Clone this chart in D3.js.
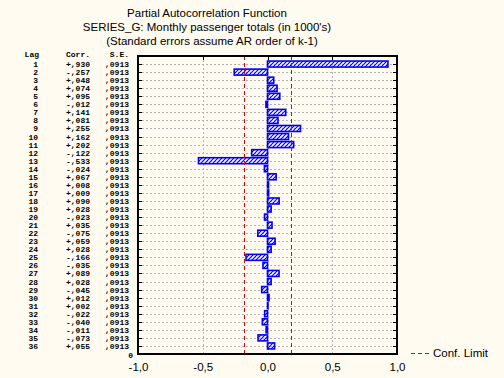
<!DOCTYPE html>
<html>
<head>
<meta charset="utf-8">
<script src="https://cdn.jsdelivr.net/npm/d3@7"></script>
<style>
  body { margin: 0; background: #fffbf0; }
  svg { display: block; }
</style>
</head>
<body>
<div id="chart"></div>
<script>
var lags = d3.range(1, 37),
    corr = [0.930, -0.257, 0.048, 0.074, 0.095, -0.012, 0.141, 0.081, 0.255, 0.162,
            0.202, -0.122, -0.533, -0.024, 0.067, 0.008, 0.009, 0.090, 0.028, -0.023,
            0.035, -0.075, 0.059, 0.028, -0.166, -0.035, 0.089, 0.028, -0.045, 0.012,
            0.002, -0.022, -0.040, -0.011, -0.073, 0.055],
    stdErr = 0.0913,
    xTicks = [-1, -0.5, 0, 0.5, 1],
    titles = ["Partial Autocorrelation Function",
              "SERIES_G: Monthly passenger totals (in 1000's)",
              "(Standard errors assume AR order of k-1)"];

var W = 504, H = 378,
    plot = {left: 138, right: 397, top: 56, bottom: 354};

var svg = d3.select("#chart").append("svg")
    .attr("width", W)
    .attr("height", H)
    .style("background", "#fffbf0");

var defs = svg.append("defs");
var pat = defs.append("pattern")
    .attr("id", "hatch")
    .attr("patternUnits", "userSpaceOnUse")
    .attr("width", 4)
    .attr("height", 4);
pat.append("path")
    .attr("d", "M-1,1 l2,-2 M0,4 l4,-4 M3,5 l2,-2")
    .attr("stroke", "#0000ff")
    .attr("stroke-width", 1.1);

var x = d3.scaleLinear().domain([-1, 1]).range([plot.left, plot.right]);
var y = d3.scaleLinear().domain([0, 37]).range([plot.top, plot.bottom]);

var fmt = v => v.toFixed(1).replace(".", ",");
var fmtCorr = v => (v < 0 ? "-" : "+") + "," + Math.abs(v).toFixed(3).slice(2);

// titles
svg.selectAll("text.title")
    .data(titles)
    .enter().append("text")
    .attr("class", "title")
    .attr("x", (d, i) => i == 2 ? 212 : 207)
    .attr("y", (d, i) => 17 + i * 14)
    .attr("text-anchor", "middle")
    .attr("font-family", "Liberation Sans, Arial, sans-serif")
    .attr("font-size", "11.5px")
    .attr("fill", "#000")
    .text(d => d);

// grid
var g = svg.append("g");
g.selectAll("line.hgrid")
    .data(lags)
    .enter().append("line")
    .attr("x1", plot.left).attr("x2", plot.right)
    .attr("y1", d => Math.round(y(d)) + 0.5).attr("y2", d => Math.round(y(d)) + 0.5)
    .attr("stroke", "#b4b4b4")
    .attr("stroke-dasharray", "2,2");
g.selectAll("line.vgrid")
    .data([-0.5, 0, 0.5])
    .enter().append("line")
    .attr("x1", d => Math.round(x(d)) + 0.5).attr("x2", d => Math.round(x(d)) + 0.5)
    .attr("y1", plot.top).attr("y2", plot.bottom)
    .attr("stroke", "#b4b4b4")
    .attr("stroke-dasharray", "2,2");

// row ticks, left and right
g.selectAll("line.lt")
    .data(lags)
    .enter().append("line")
    .attr("x1", plot.left).attr("x2", plot.left + 4)
    .attr("y1", d => Math.round(y(d)) + 0.5).attr("y2", d => Math.round(y(d)) + 0.5)
    .attr("stroke", "#000");
g.selectAll("line.rt")
    .data(lags)
    .enter().append("line")
    .attr("x1", plot.right - 4).attr("x2", plot.right)
    .attr("y1", d => Math.round(y(d)) + 0.5).attr("y2", d => Math.round(y(d)) + 0.5)
    .attr("stroke", "#000");

// bars
var bh = 6;
g.selectAll("rect.bar")
    .data(corr)
    .enter().append("rect")
    .attr("x", d => Math.min(x(0), x(d)))
    .attr("width", d => Math.max(Math.abs(x(d) - x(0)), 0.5))
    .attr("y", (d, i) => y(lags[i]) - bh / 2)
    .attr("height", bh)
    .attr("fill", "url(#hatch)")
    .attr("stroke", "#0000ff")
    .attr("stroke-width", 1.6);

// confidence limits
g.selectAll("line.conf")
    .data([-2 * stdErr, 2 * stdErr])
    .enter().append("line")
    .attr("x1", d => Math.round(x(d)) + 0.5).attr("x2", d => Math.round(x(d)) + 0.5)
    .attr("y1", plot.top).attr("y2", plot.bottom)
    .attr("stroke", "#e80000")
    .attr("stroke-width", 1)
    .attr("shape-rendering", "crispEdges")
    .attr("stroke-dasharray", "4,3");

// frame
svg.append("rect")
    .attr("x", plot.left).attr("y", plot.top)
    .attr("width", plot.right - plot.left)
    .attr("height", plot.bottom - plot.top)
    .attr("fill", "none")
    .attr("stroke", "#000")
    .attr("stroke-width", 2);

// x axis
var xAxis = d3.axisBottom(x)
    .tickValues(xTicks)
    .tickSize(0)
    .tickPadding(9)
    .tickFormat(fmt);
var ax = svg.append("g")
    .attr("transform", "translate(0," + plot.bottom + ")")
    .call(xAxis);
ax.select(".domain").remove();
ax.selectAll("text")
    .attr("font-family", "Liberation Sans, Arial, sans-serif")
    .attr("font-size", "11.5px")
    .attr("fill", "#000");

// top ticks
svg.selectAll("line.tt")
    .data([-0.5, 0, 0.5])
    .enter().append("line")
    .attr("x1", d => Math.round(x(d)) + 0.5).attr("x2", d => Math.round(x(d)) + 0.5)
    .attr("y1", plot.top).attr("y2", plot.top + 4)
    .attr("stroke", "#000");

// table at left
var mono = "Liberation Mono, Courier New, monospace";
var tbl = svg.append("g")
    .attr("font-family", mono)
    .attr("font-size", "8px")
    .attr("font-weight", "bold")
    .attr("fill", "#000");
tbl.append("text").attr("x", 39).attr("y", 57).attr("text-anchor", "end").text("Lag");
tbl.append("text").attr("x", 90).attr("y", 57).attr("text-anchor", "end").text("Corr.");
tbl.append("text").attr("x", 129).attr("y", 57).attr("text-anchor", "end").text("S.E.");
tbl.selectAll("text.lag")
    .data(lags)
    .enter().append("text")
    .attr("x", 38)
    .attr("y", d => y(d) + 3)
    .attr("text-anchor", "end")
    .text(d => d);
tbl.selectAll("text.corr")
    .data(corr)
    .enter().append("text")
    .attr("x", 90)
    .attr("y", (d, i) => y(lags[i]) + 3)
    .attr("text-anchor", "end")
    .text(fmtCorr);
tbl.selectAll("text.se")
    .data(lags)
    .enter().append("text")
    .attr("x", 129)
    .attr("y", d => y(d) + 3)
    .attr("text-anchor", "end")
    .text("," + String(stdErr).slice(2));
tbl.append("text").attr("x", 133).attr("y", 358).attr("text-anchor", "end").text("0");

// legend
svg.append("line")
    .attr("x1", 411).attr("x2", 429)
    .attr("y1", 353.5).attr("y2", 353.5)
    .attr("stroke", "#e80000")
    .attr("stroke-width", 1)
    .attr("shape-rendering", "crispEdges")
    .attr("stroke-dasharray", "4,3");
svg.append("text")
    .attr("x", 433).attr("y", 357)
    .attr("font-family", "Liberation Sans, Arial, sans-serif")
    .attr("font-size", "11.5px")
    .attr("fill", "#000")
    .text("Conf. Limit");
</script>
</body>
</html>
